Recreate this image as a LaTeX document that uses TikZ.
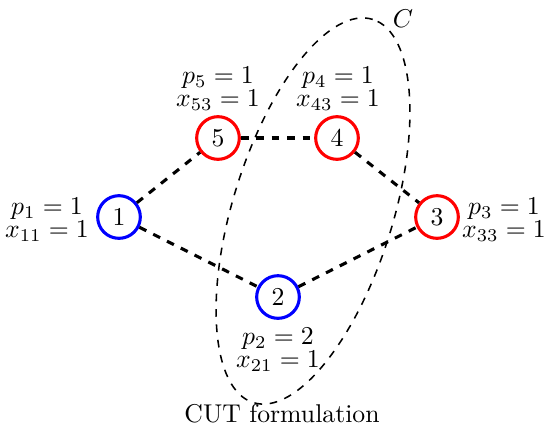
\documentclass[tikz,border=0pt]{standalone}
\usepackage{tikz}
\begin{document}
\begin{tikzpicture}[x=0.389pt,y=0.389pt,
  vtx/.style={circle,draw,line width=1.2pt,minimum size=16.6pt,inner sep=0pt},
  bluev/.style={vtx,draw=blue},
  redv/.style={vtx,draw=red},
  edge/.style={dashed,line width=1.2pt},
  lab/.style={align=center,inner sep=0pt},
  cut/.style={dashed,line width=0.6pt}]
\useasboundingbox (0,0) rectangle (547,-426);
\node[bluev] (n1) at (119,-217) {1};
\node[redv]  (n5) at (218,-138) {5};
\node[redv]  (n4) at (337,-138) {4};
\node[redv]  (n3) at (437,-217) {3};
\node[bluev] (n2) at (278,-297) {2};
\draw[edge] (n1) -- (n5);
\draw[edge] (n5) -- (n4);
\draw[edge] (n4) -- (n3);
\draw[edge] (n1) -- (n2);
\draw[edge] (n2) -- (n3);
\node[lab] (l1) at (47,-220) {$p_1=1$\\[-3pt]$x_{11}=1$};
\node[lab] (l5) at (218,-89) {$p_5=1$\\[-3pt]$x_{53}=1$};
\node[lab] (l4) at (338,-89) {$p_4=1$\\[-3pt]$x_{43}=1$};
\node[lab] (l3) at (504,-220) {$p_3=1$\\[-3pt]$x_{33}=1$};
\node[lab] (l2) at (278,-350) {$p_2=2$\\[-3pt]$x_{21}=1$};
\draw[cut, rotate around={72.7:(313,-211)}] (313,-211) ellipse [x radius=200.7, y radius=80];
\node[inner sep=0pt] (cl) at (403,-19) {$C$};
\node[inner sep=0pt] (title) at (282,-414) {CUT formulation};
\end{tikzpicture}
\end{document}
